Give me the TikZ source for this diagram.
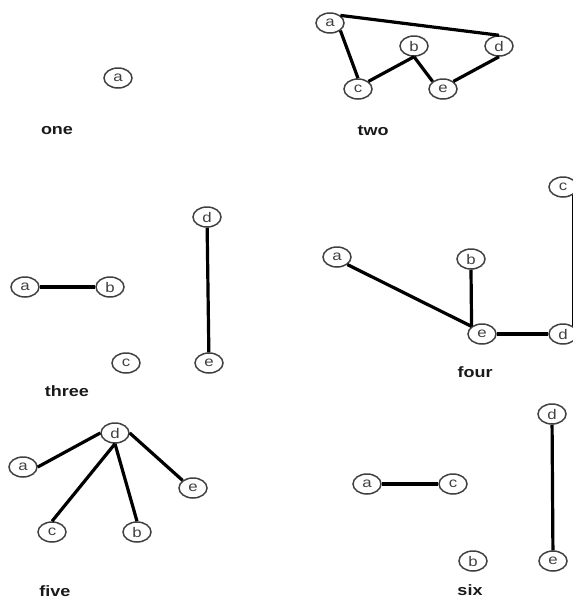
\documentclass[tikz,border=0pt]{standalone}
\usepackage{fontspec}
\setmainfont{Liberation Sans}
\usetikzlibrary{shapes.geometric}
\tikzset{
  vtx/.style={ellipse, draw=black!75, line width=1.5pt, minimum width=28pt, minimum height=20pt, inner sep=0pt, font=\fontsize{14}{14}\selectfont, text=black!75},
  edg/.style={line width=3.2pt, black},
  lbl/.style={font=\bfseries\fontsize{15}{15}\selectfont, inner sep=0pt, text=black!90}
}
\newcommand{\stretchtxt}[1]{\scalebox{1.2}[1]{#1}}
\begin{document}
\begin{tikzpicture}[x=1pt,y=-1pt]
\useasboundingbox (0,0) rectangle (573,600);
\clip (0,0) rectangle (573,600);
% one
\node[vtx] (1a) at (118,78) {\stretchtxt{a}};
\node[lbl] (l1) at (57,131) {\stretchtxt{one}};
% two
\node[vtx] (2a) at (330,23) {\stretchtxt{a}};
\node[vtx] (2b) at (414,46) {\stretchtxt{b}};
\node[vtx] (2d) at (499,46) {\stretchtxt{d}};
\node[vtx] (2c) at (358,89) {\stretchtxt{c}};
\node[vtx] (2e) at (443,89) {\stretchtxt{e}};
\node[lbl] (l2) at (373,131) {\stretchtxt{two}};
\draw[edg] (2a.north east) -- (2d.north);
\draw[edg] (2a.south east) -- (2c.north);
\draw[edg] (2b.south) -- (2c.north east);
\draw[edg] (2b.south) -- (2e.north west);
\draw[edg] (2d.south) -- (2e.north east);
% three
\node[vtx] (3a) at (25,287) {\stretchtxt{a}};
\node[vtx] (3b) at (110,287) {\stretchtxt{b}};
\node[vtx] (3d) at (207,217) {\stretchtxt{d}};
\node[vtx] (3e) at (209,363) {\stretchtxt{e}};
\node[vtx] (3c) at (126,363) {\stretchtxt{c}};
\node[lbl] (l3) at (67,391) {\stretchtxt{three}};
\draw[edg] (3a) -- (3b);
\draw[edg] (3d) -- (3e);
% four
\node[vtx] (4a) at (337,257) {\stretchtxt{a}};
\node[vtx] (4b) at (471,259) {\stretchtxt{b}};
\node[vtx] (4e) at (482,334) {\stretchtxt{e}};
\node[vtx] (4d) at (563,334) {\stretchtxt{d}};
\node[vtx] (4c) at (563,187) {\stretchtxt{c}};
\node[lbl] (l4) at (475,372) {\stretchtxt{four}};
\draw[edg] (4a.south east) -- (4e.north west);
\draw[edg] (4b.south) -- (4e.north west);
\draw[edg] (4e) -- (4d);
\draw[edg] (4c.south east) -- (4d.north east);
% five
\node[vtx] (5d) at (115,433) {\stretchtxt{d}};
\node[vtx] (5a) at (23,467) {\stretchtxt{a}};
\node[vtx] (5e) at (193,488) {\stretchtxt{e}};
\node[vtx] (5c) at (52,532) {\stretchtxt{c}};
\node[vtx] (5b) at (137,532) {\stretchtxt{b}};
\node[lbl] (l5) at (55,591) {\stretchtxt{five}};
\draw[edg] (5d.west) -- (5a.east);
\draw[edg] (5d.south) -- (5c.north);
\draw[edg] (5d.south) -- (5b.north);
\draw[edg] (5d.east) -- (5e.north west);
% six
\node[vtx] (6a) at (367,484) {\stretchtxt{a}};
\node[vtx] (6c) at (453,484) {\stretchtxt{c}};
\node[vtx] (6d) at (552,414) {\stretchtxt{d}};
\node[vtx] (6e) at (553,561) {\stretchtxt{e}};
\node[vtx] (6b) at (473,561) {\stretchtxt{b}};
\node[lbl] (l6) at (470,590) {\stretchtxt{six}};
\draw[edg] (6a) -- (6c);
\draw[edg] (6d) -- (6e);
\end{tikzpicture}
\end{document}
